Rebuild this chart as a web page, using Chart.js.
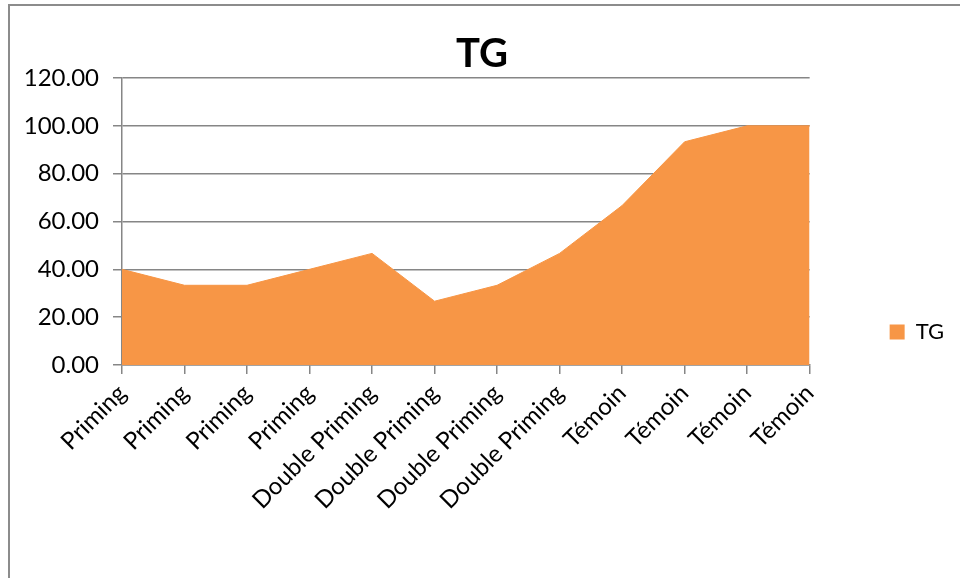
<!DOCTYPE html>
<html>
<head>
<meta charset="utf-8">
<script src="https://cdn.jsdelivr.net/npm/chart.js@4/dist/chart.umd.min.js"></script>
<style>
  body { margin: 0; background: #fff; }
  #frame {
    position: absolute; left: 8px; top: 4px;
    width: 952px; height: 574px; box-sizing: border-box;
    border-left: 2px solid #8c8c8c; border-top: 2px solid #8c8c8c;
  }
</style>
</head>
<body>
<div id="frame"><canvas id="myChart" width="950" height="572"></canvas></div>
<script>
// data
let labels = ['Priming', 'Priming', 'Priming', 'Priming',
  'Double Priming', 'Double Priming', 'Double Priming', 'Double Priming',
  'Témoin', 'Témoin', 'Témoin', 'Témoin'];
let tgValues = [40, 33.33, 33.33, 40, 46.67, 26.67, 33.33, 46.67, 66.67, 93.33, 100, 100];
let yMin = 0;
let yMax = 120;
let yStep = 20;

let orange = '#F79646';
let gridGray = '#868686';
let font = 'Lato, "Open Sans", sans-serif';

let ctx = document.getElementById('myChart').getContext('2d');
let myChart = new Chart(ctx, {
  type: 'line',
  data: {
    labels: labels,
    datasets: [{
      label: 'TG',
      data: tgValues,
      backgroundColor: orange,
      borderColor: orange,
      borderWidth: 1,
      fill: 'origin',
      pointRadius: 0,
      tension: 0
    }]
  },
  options: {
    responsive: false,
    animation: false,
    layout: { padding: { right: 6 } },
    plugins: {
      title: {
        display: true,
        text: 'TG',
        color: '#000',
        font: { family: font, size: 40, weight: 'bold' },
        padding: { top: 24, bottom: 0 }
      },
      legend: {
        position: 'right',
        // empty title just pushes the legend item down
        title: { display: true, text: ' ', font: { size: 10 }, padding: 34 },
        labels: {
          color: '#000',
          font: { family: font, size: 22 },
          boxWidth: 15,
          boxHeight: 15,
          padding: 80,
          generateLabels: function(chart) {
            return [{ text: 'TG', fillStyle: orange, strokeStyle: orange, fontColor: '#000', lineWidth: 0, datasetIndex: 0 }];
          }
        }
      },
      tooltip: { enabled: false }
    },
    scales: {
      x: {
        offset: false,
        afterFit: function(scale) { scale.height = 213; },
        grid: { display: true, drawOnChartArea: false, color: gridGray, lineWidth: 1.5, tickLength: 9 },
        border: { color: gridGray, width: 1.5 },
        ticks: {
          color: '#000',
          font: { family: font, size: 24 },
          maxRotation: 45,
          minRotation: 45,
          autoSkip: false,
          padding: 5
        }
      },
      y: {
        min: yMin,
        max: yMax,
        afterFit: function(scale) { scale.width = 112; },
        grid: { color: gridGray, lineWidth: 1.5, tickLength: 9 },
        border: { color: gridGray, width: 1.5 },
        ticks: {
          stepSize: yStep,
          color: '#000',
          font: { family: font, size: 24 },
          padding: 14,
          callback: function(v) { return v.toFixed(2); }
        }
      }
    }
  }
});
</script>
</body>
</html>
